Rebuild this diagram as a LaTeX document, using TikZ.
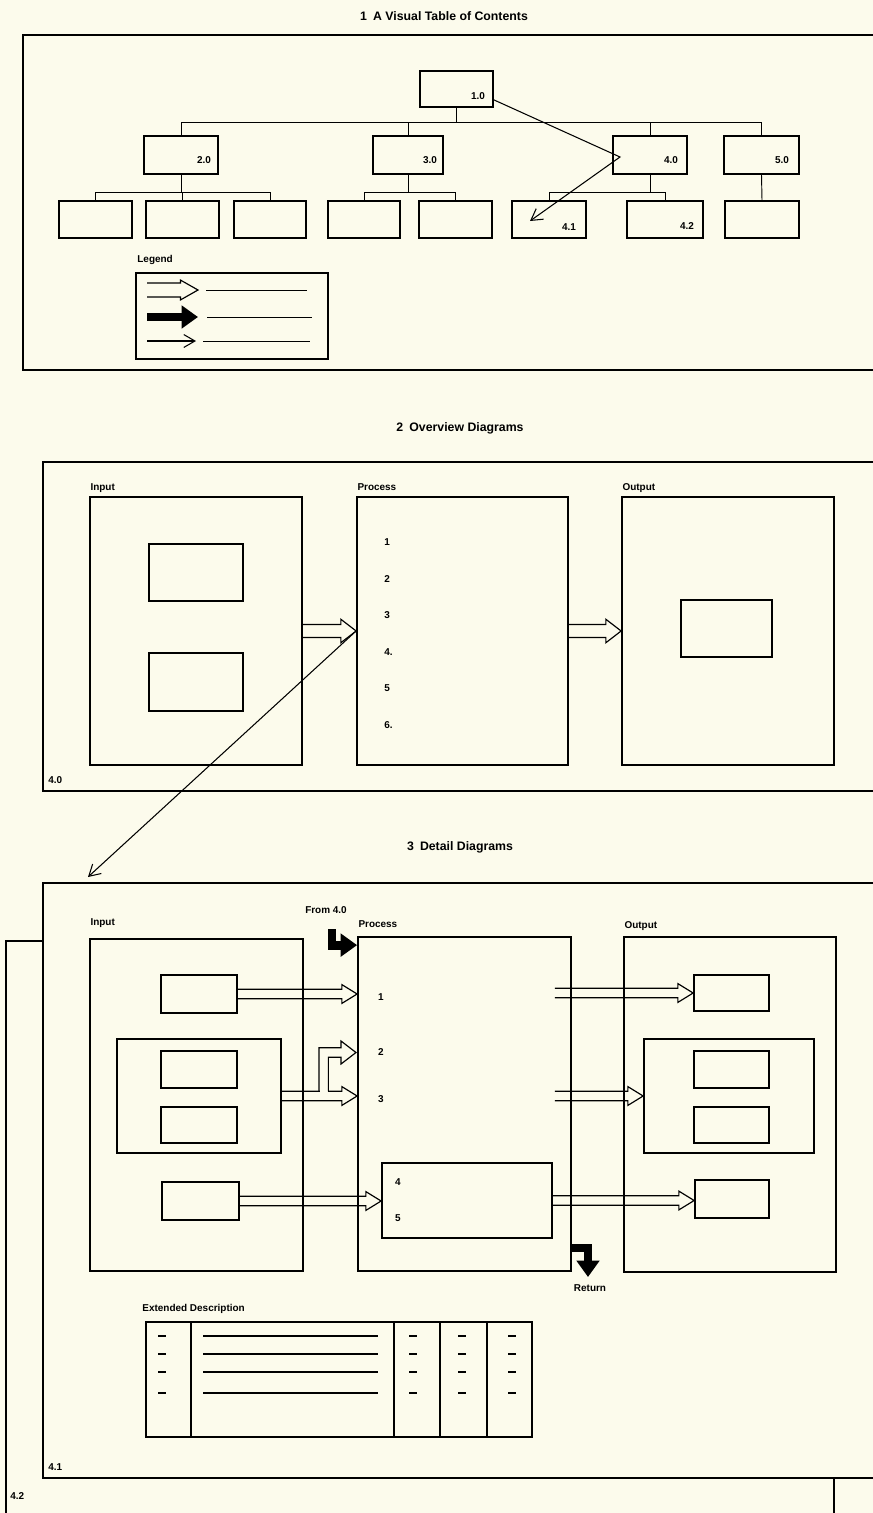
\documentclass[tikz,border=0pt]{standalone}
\usepackage{fontspec}
\setmainfont{Liberation Sans}
\usetikzlibrary{positioning,fit,calc,arrows.meta}
\definecolor{paper}{RGB}{252,251,236}
\tikzset{
  frame/.style={draw, line width=1.8pt},
  box/.style={draw, line width=1.5pt, inner sep=0pt},
  link/.style={line width=0.8pt},
  rule/.style={line width=1.5pt},
  lbl/.style={font=\fontsize{8.5}{10}\selectfont\bfseries, inner sep=1pt},
  ttl/.style={font=\fontsize{10.5}{12}\selectfont\bfseries},
  thinarr/.style={line width=0.9pt, -{Straight Barb[angle=60:11pt]}},
  solidarr/.style={line width=7.5pt, line join=miter, -{Triangle[length=14pt,width=19pt]}},
  hollow/.style n args={3}{line width=1pt, line join=miter,
    to path={let \p1=(\tikztostart), \p2=(\tikztotarget) in
      (\x1,\y1+#1) -- (\x2-#3,\y1+#1) -- (\x2-#3,\y1+#2) -- (\x2,\y1)
      -- (\x2-#3,\y1-#2) -- (\x2-#3,\y1-#1) -- (\x1,\y1-#1)}},
  hsmall/.style={hollow={4pt}{8pt}{13pt}},
  hbig/.style={hollow={5.5pt}{10pt}{13pt}}
}
\begin{document}
\begin{tikzpicture}[x=0.03cm, y=-0.03cm]
  \useasboundingbox (0,0) rectangle (873,1513);
  \fill[paper] (0,0) rectangle (873,1513);

  % 1 visual table of contents
  \node[ttl] (t1) at (444,16) {1\enspace A Visual Table of Contents};
  \draw[frame] (880,35) -| (23,370) -- (880,370);
  \node[box, fit={(420,71) (493,107)}] (n10) {};
  \node[box, fit={(144,136) (218,174)}] (n20) {};
  \node[box, fit={(373,136) (443,174)}] (n30) {};
  \node[box, fit={(613,136) (687,174)}] (n40) {};
  \node[box, fit={(724,136) (799,174)}] (n50) {};
  \node[box, fit={(59,201) (132,238)}] (n21) {};
  \node[box, fit={(146,201) (219,238)}] (n22) {};
  \node[box, fit={(234,201) (306,238)}] (n23) {};
  \node[box, fit={(328,201) (400,238)}] (n31) {};
  \node[box, fit={(419,201) (492,238)}] (n32) {};
  \node[box, fit={(512,201) (586,238)}] (n41) {};
  \node[box, fit={(627,201) (703,238)}] (n42) {};
  \node[box, fit={(725,201) (799,238)}] (n51) {};
  \node[lbl] (l10) at (478,96) {1.0};
  \node[lbl] (l20) at (204,160) {2.0};
  \node[lbl] (l30) at (430,160) {3.0};
  \node[lbl] (l40) at (671,160) {4.0};
  \node[lbl] (l50) at (782,160) {5.0};
  \node[lbl] (l41) at (569,227) {4.1};
  \node[lbl] (l42) at (687,226) {4.2};

  \draw[link] (n10.south) -- ++(0,15) coordinate (b1);
  \draw[link] (n20.north) |- (b1) -| (n50.north);
  \foreach \n in {n30,n40} \draw[link] (\n.north) -- (\n.north |- b1);
  \draw[link] (n20.south) -- ++(0,18) coordinate (b2);
  \draw[link] (n21.north) |- (b2) -| (n23.north);
  \draw[link] (n22.north) -- (n22.north |- b2);
  \draw[link] (n30.south) -- ++(0,18) coordinate (b3);
  \draw[link] (n31.north) |- (b3) -| (n32.north);
  \draw[link] (n40.south) -- ++(0,18) coordinate (b4);
  \draw[link] (n41.north) |- (b4) -| (n42.north);
  \draw[link] (n50.south) -- (n51.north);

  \coordinate (k1) at (620,157);
  \coordinate (k2) at (530,221);
  \draw[thinarr] ($(n10.south east)+(0,-8)$) -- (k1) -- (k2);

  \node[lbl, anchor=west] (leg) at (136,260) {Legend};
  \node[box, fit={(136,273) (328,359)}] (legbox) {};
  \draw[hollow={6pt}{8.5pt}{15pt}] (147,290) to (198,290);
  \draw[link] (206,290) -- (307,290);
  \draw[solidarr] (147,317) -- (198,317);
  \draw[link] (207,317) -- (312,317);
  \draw[thinarr] (147,341) -- (196,341);
  \draw[link] (203,341) -- (310,341);

  % 2 overview diagrams
  \node[ttl] (t2) at (460,428) {2\enspace Overview Diagrams};
  \draw[frame] (880,462) -| (43,791) -- (880,791);
  \node[box, fit={(90,497) (302,765)}] (in2) {};
  \node[box, fit={(357,497) (568,765)}] (pr2) {};
  \node[box, fit={(622,497) (834,765)}] (out2) {};
  \node[box, fit={(149,544) (243,601)}] (i21) {};
  \node[box, fit={(149,653) (243,711)}] (i22) {};
  \node[box, fit={(681,600) (772,657)}] (o21) {};
  \node[lbl, anchor=base west] at ($(in2.north west)+(0,-6)$) {Input};
  \node[lbl, anchor=base west] at ($(pr2.north west)+(0,-6)$) {Process};
  \node[lbl, anchor=base west] at ($(out2.north west)+(0,-6)$) {Output};
  \foreach \t [count=\i] in {1,2,3,4.,5,6.}
    \node[lbl, anchor=west] (p2n\i) at (383,{542+36.6*(\i-1)}) {\t};
  \draw[hbig] (in2.east) to (pr2.west);
  \draw[hbig] (pr2.east) to (out2.west);
  \node[lbl, anchor=west] (l40b) at (47,780) {4.0};
  \coordinate (d41) at (88,877);
  \draw[thinarr] (pr2.west) -- (d41);

  % 3 detail diagrams
  \node[ttl] (t3) at (460,847) {3\enspace Detail Diagrams};
  \draw[frame] (43,941) -- (6,941) -- (6,1520);
  \draw[frame] (834,1478) -- (834,1520);
  \fill[paper] (44,884) rectangle (873,1477);
  \draw[frame] (880,883) -| (43,1478) -- (880,1478);
  \node[lbl, anchor=west] (l41b) at (47,1467) {4.1};
  \node[lbl, anchor=west] (l42b) at (9,1496) {4.2};

  \node[box, fit={(90,939) (303,1271)}] (in3) {};
  \node[box, fit={(358,937) (571,1271)}] (pr3) {};
  \node[box, fit={(624,937) (836,1272)}] (out3) {};
  \node[lbl, anchor=base west] at ($(in3.north west)+(0,-13)$) {Input};
  \node[lbl, anchor=base west] at ($(pr3.north west)+(0,-9)$) {Process};
  \node[lbl, anchor=base west] at ($(out3.north west)+(0,-8)$) {Output};
  \node[lbl] (from) at (326,910) {From 4.0};

  \node[box, fit={(161,975) (237,1013)}] (a3) {};
  \node[box, fit={(117,1039) (281,1153)}] (g3) {};
  \node[box, fit={(161,1051) (237,1088)}] (g31) {};
  \node[box, fit={(161,1107) (237,1143)}] (g32) {};
  \node[box, fit={(162,1182) (239,1220)}] (c3) {};
  \node[box, fit={(382,1163) (552,1238)}] (q3) {};
  \node[box, fit={(694,975) (769,1011)}] (oa) {};
  \node[box, fit={(644,1039) (814,1153)}] (og) {};
  \node[box, fit={(694,1051) (769,1088)}] (og1) {};
  \node[box, fit={(694,1107) (769,1143)}] (og2) {};
  \node[box, fit={(695,1180) (769,1218)}] (oc) {};
  \node[lbl] (p3n1) at (381,997) {1};
  \node[lbl] (p3n2) at (381,1052) {2};
  \node[lbl] (p3n3) at (381,1099) {3};
  \node[lbl] (p3n4) at (398,1182) {4};
  \node[lbl] (p3n5) at (398,1218) {5};

  \draw[hsmall] (a3.east) to (a3.east -| pr3.west);
  \draw[hsmall] (g3.east) to (g3.east -| pr3.west);
  \fill[paper] (320,1089) rectangle (327.5,1093);
  \draw[line width=1pt, line join=miter] (319,1091.3) -- (319,1047.8) -- (341,1047.8)
    -- (341,1041) -- (356,1052.5) -- (341,1064) -- (341,1057.2) -- (328.4,1057.2) -- (328.4,1091.3);
  \draw[hsmall] (c3.east) to (q3.west);
  \draw[hsmall] ($(oa.west -| pr3.east)+(-17,0)$) to (oa.west);
  \draw[hsmall] ($(og.west -| pr3.east)+(-17,0)$) to (og.west);
  \draw[hsmall] (q3.east) to (oc.west);

  \coordinate (f40) at (332,929);
  \draw[solidarr] (f40) |- ($(pr3.north west)+(0,9)$);
  \coordinate (rt) at (588,1277);
  \draw[solidarr] ($(pr3.south east)+(0,-24)$) -| (rt);
  \node[lbl] (ret) at (590,1288) {Return};

  \node[lbl, anchor=west] (ext) at (141,1309) {Extended Description};
  \node[box, fit={(146,1322) (532,1437)}] (tbl) {};
  \foreach \x in {191,394,440,487} \draw[link, line width=1.2pt] (\x,1322) -- (\x,1437);
  \foreach \y in {1336,1354,1372,1393} {
    \draw[rule] (158,\y) -- (166,\y);
    \draw[rule] (203,\y) -- (378,\y);
    \draw[rule] (409,\y) -- (417,\y);
    \draw[rule] (458,\y) -- (466,\y);
    \draw[rule] (508,\y) -- (516,\y);
  }
\end{tikzpicture}
\end{document}
